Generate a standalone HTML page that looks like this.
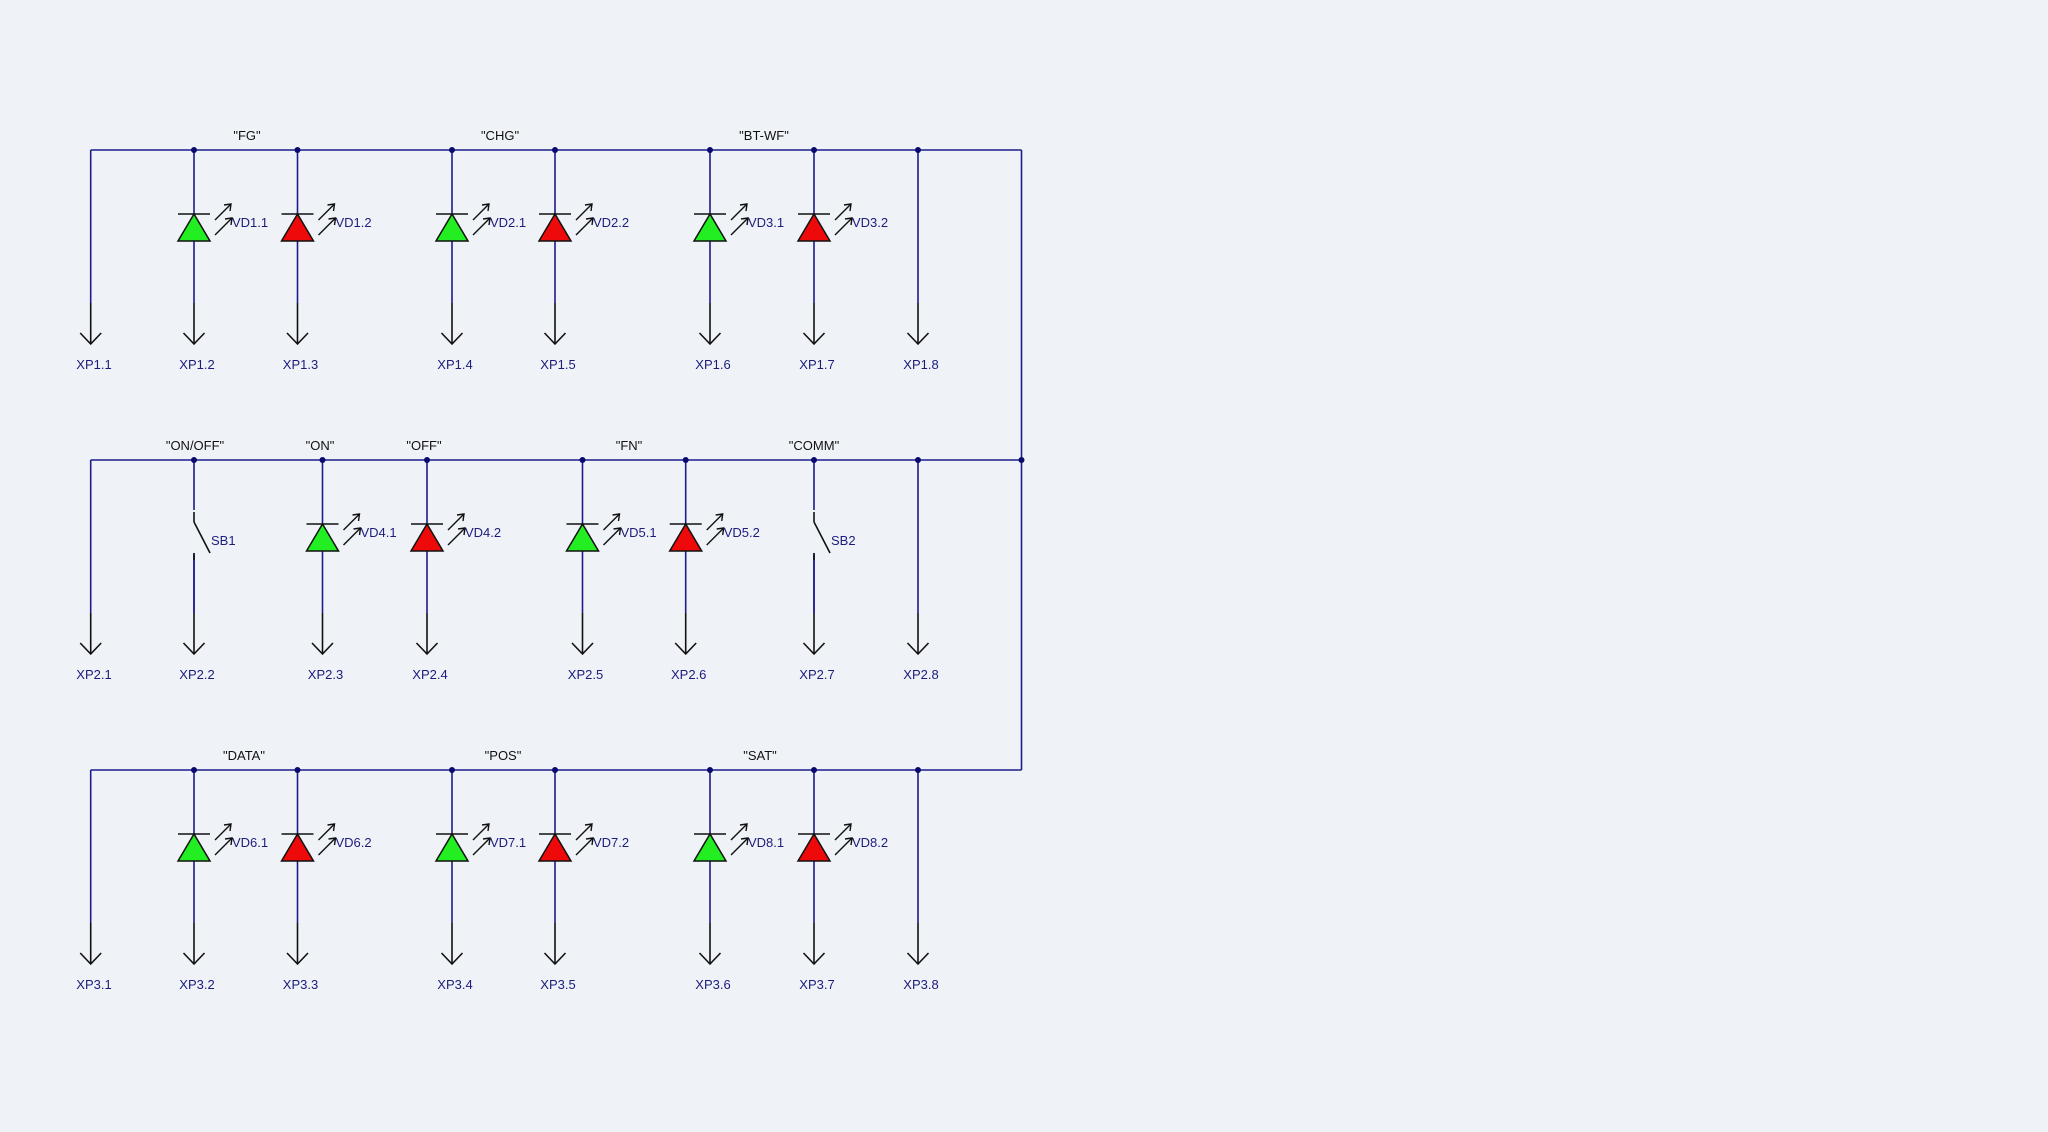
<!DOCTYPE html>
<html><head><meta charset="utf-8"><style>
html,body{margin:0;padding:0;background:#eff3f7;}
svg{display:block;}
text{font-family:"Liberation Sans",sans-serif;font-size:13px;}
.n{fill:#1c1c7c;}
.b{fill:#111;}
</style></head><body>
<svg width="2048" height="1132" viewBox="0 0 2048 1132" xmlns="http://www.w3.org/2000/svg">
<defs>
<g id="pin">
<line x1="0" y1="0" x2="0" y2="153" stroke="#1c1c8a" stroke-width="1.6"/>
<line x1="0" y1="153" x2="0" y2="194" stroke="#111" stroke-width="1.6"/>
<polyline points="-10.5,183 0,194 10.5,183" fill="none" stroke="#111" stroke-width="1.6"/>
</g>
<g id="arr">
<line x1="21" y1="70" x2="37" y2="54" stroke="#111" stroke-width="1.4"/>
<polyline points="30,55 37,54 36,61" fill="none" stroke="#111" stroke-width="1.4"/>
<line x1="21" y1="85" x2="38" y2="68" stroke="#111" stroke-width="1.4"/>
<polyline points="31,69 38,68 37,75" fill="none" stroke="#111" stroke-width="1.4"/>
<line x1="-16" y1="64" x2="16" y2="64" stroke="#111" stroke-width="1.6"/>
</g>
<g id="ledG"><polygon points="0,64 -16,91 16,91" fill="#22ee22" stroke="#111" stroke-width="1.5"/><use href="#arr"/></g>
<g id="ledR"><polygon points="0,64 -16,91 16,91" fill="#ee0a0a" stroke="#111" stroke-width="1.5"/><use href="#arr"/></g>
<g id="sw">
<rect x="-3" y="50" width="6" height="45" fill="#eff3f7"/>
<line x1="0" y1="52" x2="0" y2="62" stroke="#111" stroke-width="1.6"/>
<line x1="0" y1="62" x2="16" y2="93" stroke="#111" stroke-width="1.6"/>
<line x1="0" y1="93" x2="0" y2="153" stroke="#1c1c8a" stroke-width="1.6"/>
<line x1="0" y1="93" x2="0" y2="100" stroke="#111" stroke-width="1.6"/>
</g>
<circle id="dot" r="3" fill="#0a0a6e"/>
</defs>

<line x1="1021.5" y1="150" x2="1021.5" y2="770" stroke="#1c1c8a" stroke-width="1.6"/>

<!-- Row 1 -->
<g transform="translate(0,150)">
<line x1="90.7" y1="0" x2="1021.5" y2="0" stroke="#1c1c8a" stroke-width="1.6"/>
<use href="#pin" x="90.7"/><use href="#pin" x="194"/><use href="#pin" x="297.5"/><use href="#pin" x="452"/>
<use href="#pin" x="555"/><use href="#pin" x="710"/><use href="#pin" x="814"/><use href="#pin" x="918"/>
<use href="#ledG" x="194"/><use href="#ledR" x="297.5"/><use href="#ledG" x="452"/><use href="#ledR" x="555"/><use href="#ledG" x="710"/><use href="#ledR" x="814"/>
<use href="#dot" x="194"/><use href="#dot" x="297.5"/><use href="#dot" x="452"/><use href="#dot" x="555"/><use href="#dot" x="710"/><use href="#dot" x="814"/><use href="#dot" x="918"/>
<text class="b" x="247" y="-10" text-anchor="middle">"FG"</text>
<text class="b" x="500" y="-10" text-anchor="middle">"CHG"</text>
<text class="b" x="764" y="-10" text-anchor="middle">"BT-WF"</text>
<text class="n" x="232" y="77">VD1.1</text><text class="n" x="335.5" y="77">VD1.2</text>
<text class="n" x="490" y="77">VD2.1</text><text class="n" x="593" y="77">VD2.2</text>
<text class="n" x="748" y="77">VD3.1</text><text class="n" x="852" y="77">VD3.2</text>
<g text-anchor="middle">
<text class="n" x="94" y="219">XP1.1</text><text class="n" x="197" y="219">XP1.2</text><text class="n" x="300.5" y="219">XP1.3</text><text class="n" x="455" y="219">XP1.4</text>
<text class="n" x="558" y="219">XP1.5</text><text class="n" x="713" y="219">XP1.6</text><text class="n" x="817" y="219">XP1.7</text><text class="n" x="921" y="219">XP1.8</text>
</g>
</g>

<!-- Row 2 -->
<g transform="translate(0,460)">
<line x1="90.7" y1="0" x2="1021.5" y2="0" stroke="#1c1c8a" stroke-width="1.6"/>
<use href="#pin" x="90.7"/><use href="#pin" x="194"/><use href="#pin" x="322.5"/><use href="#pin" x="427"/>
<use href="#pin" x="582.5"/><use href="#pin" x="685.7"/><use href="#pin" x="814"/><use href="#pin" x="918"/>
<use href="#sw" x="194"/><use href="#sw" x="814"/>
<use href="#ledG" x="322.5"/><use href="#ledR" x="427"/><use href="#ledG" x="582.5"/><use href="#ledR" x="685.7"/>
<use href="#dot" x="194"/><use href="#dot" x="322.5"/><use href="#dot" x="427"/><use href="#dot" x="582.5"/><use href="#dot" x="685.7"/><use href="#dot" x="814"/><use href="#dot" x="918"/><use href="#dot" x="1021.5"/>
<text class="b" x="195" y="-10" text-anchor="middle">"ON/OFF"</text>
<text class="b" x="320" y="-10" text-anchor="middle">"ON"</text>
<text class="b" x="424" y="-10" text-anchor="middle">"OFF"</text>
<text class="b" x="629" y="-10" text-anchor="middle">"FN"</text>
<text class="b" x="814" y="-10" text-anchor="middle">"COMM"</text>
<text class="n" x="211" y="85">SB1</text><text class="n" x="831" y="85">SB2</text>
<text class="n" x="360.5" y="77">VD4.1</text><text class="n" x="465" y="77">VD4.2</text>
<text class="n" x="620.5" y="77">VD5.1</text><text class="n" x="723.7" y="77">VD5.2</text>
<g text-anchor="middle">
<text class="n" x="94" y="219">XP2.1</text><text class="n" x="197" y="219">XP2.2</text><text class="n" x="325.5" y="219">XP2.3</text><text class="n" x="430" y="219">XP2.4</text>
<text class="n" x="585.5" y="219">XP2.5</text><text class="n" x="688.7" y="219">XP2.6</text><text class="n" x="817" y="219">XP2.7</text><text class="n" x="921" y="219">XP2.8</text>
</g>
</g>

<!-- Row 3 -->
<g transform="translate(0,770)">
<line x1="90.7" y1="0" x2="1021.5" y2="0" stroke="#1c1c8a" stroke-width="1.6"/>
<use href="#pin" x="90.7"/><use href="#pin" x="194"/><use href="#pin" x="297.5"/><use href="#pin" x="452"/>
<use href="#pin" x="555"/><use href="#pin" x="710"/><use href="#pin" x="814"/><use href="#pin" x="918"/>
<use href="#ledG" x="194"/><use href="#ledR" x="297.5"/><use href="#ledG" x="452"/><use href="#ledR" x="555"/><use href="#ledG" x="710"/><use href="#ledR" x="814"/>
<use href="#dot" x="194"/><use href="#dot" x="297.5"/><use href="#dot" x="452"/><use href="#dot" x="555"/><use href="#dot" x="710"/><use href="#dot" x="814"/><use href="#dot" x="918"/>
<text class="b" x="244" y="-10" text-anchor="middle">"DATA"</text>
<text class="b" x="503" y="-10" text-anchor="middle">"POS"</text>
<text class="b" x="760" y="-10" text-anchor="middle">"SAT"</text>
<text class="n" x="232" y="77">VD6.1</text><text class="n" x="335.5" y="77">VD6.2</text>
<text class="n" x="490" y="77">VD7.1</text><text class="n" x="593" y="77">VD7.2</text>
<text class="n" x="748" y="77">VD8.1</text><text class="n" x="852" y="77">VD8.2</text>
<g text-anchor="middle">
<text class="n" x="94" y="219">XP3.1</text><text class="n" x="197" y="219">XP3.2</text><text class="n" x="300.5" y="219">XP3.3</text><text class="n" x="455" y="219">XP3.4</text>
<text class="n" x="558" y="219">XP3.5</text><text class="n" x="713" y="219">XP3.6</text><text class="n" x="817" y="219">XP3.7</text><text class="n" x="921" y="219">XP3.8</text>
</g>
</g>
</svg>
</body></html>
